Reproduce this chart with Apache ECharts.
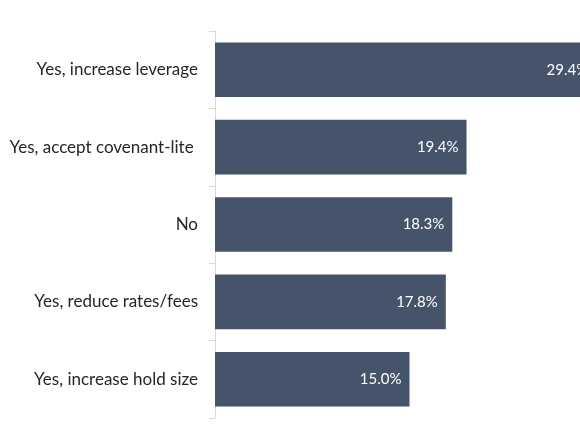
<!DOCTYPE html>
<html>
<head>
<meta charset="utf-8">
<script src="https://cdn.jsdelivr.net/npm/echarts@6/dist/echarts.min.js"></script>
<style>
  html, body { margin: 0; padding: 0; background: #fff; overflow: hidden; }
  /* wider than the window: the longest bar runs off the right edge in the original */
  #chart { width: 604px; height: 435px; }
</style>
</head>
<body>
<div id="chart"></div>
<script>
// listed bottom to top, as the category axis draws them
const categories = [
    'Yes, increase hold size',
    'Yes, reduce rates/fees',
    'No',
    'Yes, accept covenant-lite ',
    'Yes, increase leverage'
];
const shares = [15.0, 17.8, 18.3, 19.4, 29.4];

const chart = echarts.init(document.getElementById('chart'), null, { renderer: 'canvas' });

chart.setOption({
    animation: false,
    textStyle: { fontFamily: 'Lato' },
    grid: { left: 215, top: 31, bottom: 17, right: 0, containLabel: false },
    xAxis: {
        type: 'value',
        min: 0,
        max: 30,
        show: false
    },
    yAxis: {
        type: 'category',
        data: categories,
        axisLine: { show: true, lineStyle: { color: '#d9d9d9', width: 1 } },
        axisTick: { show: true, length: 6, lineStyle: { color: '#d9d9d9' } },
        axisLabel: { color: '#262626', fontSize: 17, margin: 17 }
    },
    series: [{
        type: 'bar',
        data: shares,
        barCategoryGap: '29.5%',
        itemStyle: { color: '#46546b' },
        label: {
            show: true,
            position: 'insideRight',
            distance: 8,
            color: '#ffffff',
            fontSize: 15,
            formatter: (p) => p.value.toFixed(1) + '%'
        }
    }]
});
</script>
</body>
</html>
